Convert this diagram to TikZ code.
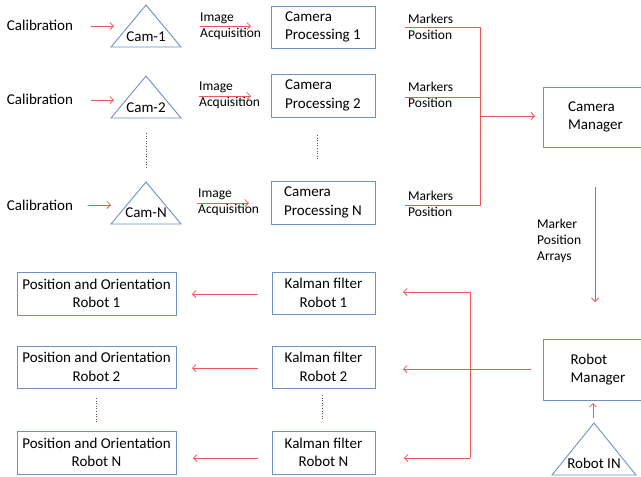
\documentclass[tikz,border=0pt]{standalone}
\usepackage{fontspec}
\setmainfont{Carlito}
\usetikzlibrary{arrows.meta}
\definecolor{arr}{RGB}{236,88,88}
\definecolor{bx}{RGB}{110,145,192}
\definecolor{dots}{RGB}{90,90,90}
\begin{document}
\begin{tikzpicture}[x=1pt,y=-1pt,
  txt/.style={font=\fontsize{15}{18}\selectfont, inner sep=0pt},
  lbl/.style={font=\fontsize{13.5}{16}\selectfont, inner sep=0pt, align=left},
  box/.style={draw=bx, line width=0.9pt, inner sep=0pt, font=\fontsize{15}{18.5}\selectfont},
  tri/.style={draw=bx, line width=0.9pt},
  conn/.style={draw=arr, line width=0.8pt},
  arrow/.style={conn, -{Straight Barb[length=3.5pt,width=7pt]}},
  dotl/.style={draw=dots, dotted, line width=0.6pt}
]
\useasboundingbox (0,0) rectangle (641,477);

% ---- camera rows ----
\node[txt] (cal1) at (40,25) {Calibration};
\node[txt] (cal2) at (40,99) {Calibration};
\node[txt] (calN) at (40,205) {Calibration};

\draw[tri] (146,5) -- (181,47) -- (111,47) -- cycle;
\draw[tri] (146,76) -- (181,118) -- (111,118) -- cycle;
\draw[tri] (146,182) -- (181,224) -- (111,224) -- cycle;
\node[txt] (cam1) at (146,37) {Cam-1};
\node[txt] (cam2) at (146,108) {Cam-2};
\node[txt] (camN) at (146,213) {Cam-N};

\coordinate (ca1) at (91,26);  \coordinate (cb1) at (114,26);
\coordinate (ca2) at (91,100); \coordinate (cb2) at (114,100);
\coordinate (caN) at (88,205); \coordinate (cbN) at (111,205);
\draw[arrow] (ca1) -- (cb1);
\draw[arrow] (ca2) -- (cb2);
\draw[arrow] (caN) -- (cbN);

\node[lbl, anchor=west] (ia1) at (200,26) {Image\\Acquisition};
\node[lbl, anchor=west] (ia2) at (199,95) {Image\\Acquisition};
\node[lbl, anchor=west] (iaN) at (198,202) {Image\\Acquisition};
\coordinate (ia1a) at (200,26); \coordinate (ia1b) at (251,26);
\coordinate (ia2a) at (199,96); \coordinate (ia2b) at (251,96);
\coordinate (iaNa) at (197,203); \coordinate (iaNb) at (249,203);
\draw[arrow] (ia1a) -- (ia1b);
\draw[arrow] (ia2a) -- (ia2b);
\draw[arrow] (iaNa) -- (iaNb);

\node[box, minimum width=104pt, minimum height=42pt, align=left] (cp1) at (323,27) {Camera\\Processing 1};
\node[box, minimum width=104pt, minimum height=43pt, align=left] (cp2) at (323,95.5) {Camera\\Processing 2};
\node[box, minimum width=104pt, minimum height=43pt, align=left] (cpN) at (323,202.5) {Camera\\Processing N};

\draw[dotl] (146,133) -- (146,167);
\draw[dotl] (317,135) -- (317,160);

\node[lbl, anchor=west] (mp1) at (408,27) {Markers\\Position};
\node[lbl, anchor=west] (mp2) at (408,95) {Markers\\Position};
\node[lbl, anchor=west] (mpN) at (408,204) {Markers\\Position};

\coordinate (m1) at (405,27);  \coordinate (j1) at (480,27);
\coordinate (m2) at (405,97);  \coordinate (j2) at (480,97);
\coordinate (mN) at (405,205); \coordinate (jN) at (480,205);
\coordinate (jc) at (480,116);
\draw[conn] (m1) -- (j1) -- (jN) -- (mN);
\draw[conn] (m2) -- (j2);

\node[box, minimum width=105pt, minimum height=60pt, align=left] (cm) at (595.5,117) {Camera\\Manager};
\coordinate (cmin) at (535,116);
\draw[arrow] (jc) -- (cmin);

\node[lbl, anchor=north west] (mpa) at (537,219) {Marker\\Position\\Arrays};
\coordinate (cmout) at (595,187);
\coordinate (rmin) at (595,302);
\draw[arrow] (cmout) -- (rmin);

% ---- robot part ----
\node[box, minimum width=110pt, minimum height=61pt, align=left] (rm) at (598,369.5) {Robot\\Manager};
\draw[tri] (594,423) -- (636,475) -- (552,475) -- cycle;
\node[txt] (rin) at (594,463) {Robot IN};
\coordinate (rinout) at (593,418);
\coordinate (rmbot) at (593,403);
\draw[arrow] (rinout) -- (rmbot);

\node[box, minimum width=103pt, minimum height=42pt, align=center] (kf1) at (323.5,293) {Kalman filter\\Robot 1};
\node[box, minimum width=103pt, minimum height=42pt, align=center] (kf2) at (323.5,367) {Kalman filter\\Robot 2};
\node[box, minimum width=103pt, minimum height=43pt, align=center] (kfN) at (323.5,452.5) {Kalman filter\\Robot N};
\draw[dotl] (322,395) -- (322,420);

\coordinate (rmout) at (531,369);
\coordinate (k2in) at (403,369);
\coordinate (v1) at (470,292); \coordinate (k1in) at (403,292);
\coordinate (vN) at (470,458); \coordinate (kNin) at (404,458);
\draw[arrow] (rmout) -- (k2in);
\draw[conn] (v1) -- (vN);
\draw[arrow] (v1) -- (k1in);
\draw[arrow] (vN) -- (kNin);

\node[box, minimum width=159pt, minimum height=43pt, align=center] (po1) at (96.5,293.5) {Position and Orientation\\Robot 1};
\node[box, minimum width=159pt, minimum height=42pt, align=center] (po2) at (96.5,367) {Position and Orientation\\Robot 2};
\node[box, minimum width=159pt, minimum height=43pt, align=center] (poN) at (96.5,452.5) {Position and Orientation\\Robot N};
\draw[dotl] (96,398) -- (96,422);

\coordinate (k1o) at (258,294); \coordinate (p1i) at (192,294);
\coordinate (k2o) at (258,368); \coordinate (p2i) at (192,368);
\coordinate (kNo) at (258,458); \coordinate (pNi) at (193,458);
\draw[arrow] (k1o) -- (p1i);
\draw[arrow] (k2o) -- (p2i);
\draw[arrow] (kNo) -- (pNi);
\end{tikzpicture}
\end{document}
